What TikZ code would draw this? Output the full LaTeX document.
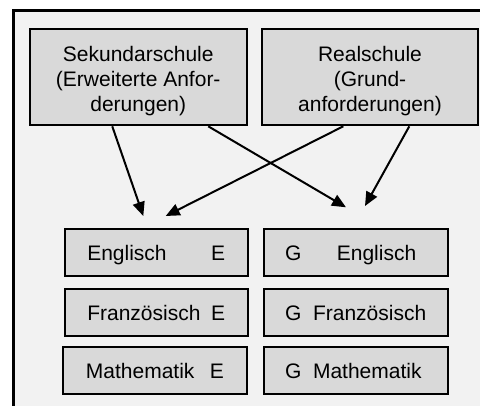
\documentclass[tikz,border=0pt]{standalone}
\usepackage{fontspec}
\setmainfont{Liberation Sans}
\usetikzlibrary{arrows.meta}
\definecolor{bg}{HTML}{F2F2F2}
\definecolor{boxfill}{HTML}{D9D9D9}
\begin{document}
\begin{tikzpicture}[x=1pt,y=-1pt,
  font=\fontsize{21pt}{25pt}\selectfont,
  box/.style={draw, line width=2pt, fill=boxfill, inner sep=0pt},
  topbox/.style={box, minimum height=95.8pt, align=center},
  subj/.style={box, minimum height=46.5pt, text height=15.5pt, text depth=0pt},
  lsubj/.style={subj, minimum width=183.5pt, text width=138pt, align=left},
  rsubj/.style={subj, minimum width=184.1pt, text width=141.5pt, align=left},
  arr/.style={line width=2pt, -{Triangle[length=14pt,width=12pt]}}]
\useasboundingbox (0,0) rectangle (480,406);
\clip (0,0) rectangle (480,406);
\fill[bg] (13.5,11) rectangle (490,420);
\draw[line width=3pt] (13.5,420) -- (13.5,11) -- (490,11);

\node[topbox, minimum width=217.5pt] (sek) at (138.25,77.4)
  {\rule{0pt}{23pt}Sekundarschule\\(Erweiterte Anfor-\\derungen)};
\node[topbox, minimum width=216pt] (real) at (370,77.4)
  {\rule{0pt}{23pt}Realschule\\(Grund-\\anforderungen)};

\node[lsubj] (le) at (156.25,252.75) {Englisch\hfill E};
\node[lsubj] (lf) at (156.25,312.75) {Französisch\hfill E};
\node[lsubj, minimum height=47pt, minimum width=184.2pt] (lm) at (154.9,370.5) {Mathematik\hfill E};

\node[rsubj] (re) at (355.75,252.75) {G\hspace*{35.5pt}Englisch};
\node[rsubj] (rf) at (355.75,312.75) {G\hspace*{11.7pt}Französisch};
\node[rsubj, minimum height=47pt] (rm) at (355.75,370.5) {G\hspace*{11.7pt}Mathematik};

\coordinate (t1) at (143.3,216);
\coordinate (t2) at (346,207.3);
\coordinate (t3) at (165.7,216);
\coordinate (t4) at (365,206);

\draw[arr] ([xshift=-26pt]sek.south) -- (t1);
\draw[arr] ([xshift=70pt]sek.south) -- (t2);
\draw[arr] ([xshift=-26.7pt]real.south) -- (t3);
\draw[arr] ([xshift=39.3pt]real.south) -- (t4);
\end{tikzpicture}
\end{document}
